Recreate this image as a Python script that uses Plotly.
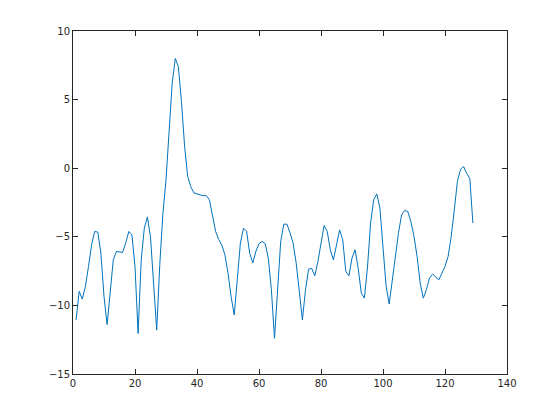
import plotly.graph_objects as go

x_vals = list(range(1, 130))
y_vals = [
    -11.05, -8.98, -9.54, -8.62, -7.16, -5.58, -4.61, -4.66, -6.2, -9.35,
    -11.4, -8.86, -6.68, -6.07, -6.12, -6.14, -5.46, -4.61, -4.86, -7.16,
    -12.05, -6.7, -4.37, -3.55, -5.0, -8.3, -11.8, -7.0, -3.3, -0.85,
    2.8, 6.2, 8.0, 7.4, 4.8, 1.6, -0.6, -1.35, -1.8, -1.9,
    -1.95, -2.0, -2.0, -2.3, -3.5, -4.6, -5.2, -5.6, -6.3, -7.65,
    -9.35, -10.7, -8.1, -5.45, -4.37, -4.6, -6.2, -6.9, -6.07, -5.5,
    -5.34, -5.5, -6.55, -8.86, -12.4, -8.86, -5.34, -4.08, -4.08, -4.7,
    -5.46, -6.92, -9.1, -11.05, -8.86, -7.36, -7.3, -7.84, -6.8, -5.34,
    -4.18, -4.6, -5.95, -6.68, -5.46, -4.5, -5.2, -7.53, -7.84, -6.55,
    -5.95, -7.3, -9.1, -9.47, -7.2, -4.0, -2.3, -1.87, -2.9, -5.7,
    -8.6, -9.9, -8.13, -6.43, -4.7, -3.4, -3.08, -3.16, -3.9, -4.98,
    -6.43, -8.38, -9.47, -8.86, -8.0, -7.72, -7.97, -8.14, -7.65, -7.17,
    -6.44, -4.98, -3.04, -0.97, -0.08, 0.12, -0.37, -0.75, -4.0,
]

x_ticks = [0, 20, 40, 60, 80, 100, 120, 140]
y_ticks = [-15, -10, -5, 0, 5, 10]

axis_color = "#262626"

fig = go.Figure()
fig.add_trace(go.Scatter(
    x=x_vals, y=y_vals, mode="lines",
    line=dict(color="#0072BD", width=1),
    showlegend=False,
))

common = dict(
    showline=True, linecolor=axis_color, linewidth=1, mirror="ticks",
    ticks="inside", ticklen=5, tickcolor=axis_color, tickwidth=1,
    showgrid=False, zeroline=False,
    tickfont=dict(family="DejaVu Sans", size=10, color=axis_color),
)

fig.update_xaxes(range=[0, 140], tickvals=x_ticks, **common)
fig.update_yaxes(range=[-15, 10], tickvals=y_ticks, **common)

fig.update_layout(
    width=560, height=420,
    margin=dict(l=65, r=61, t=23, b=54),
    paper_bgcolor="white", plot_bgcolor="white",
)

fig.write_html("out.html")
